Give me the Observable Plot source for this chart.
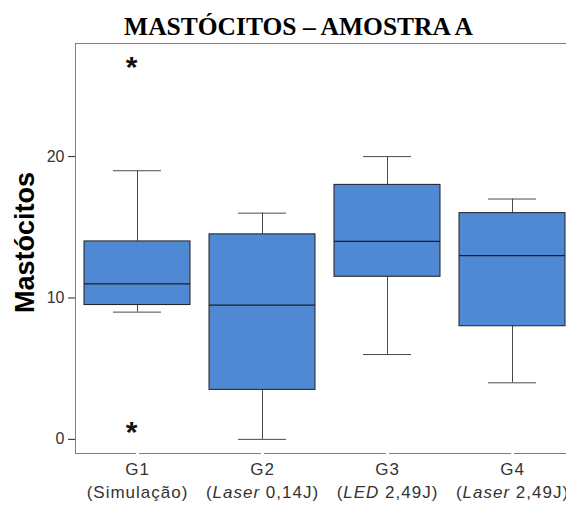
<!DOCTYPE html>
<html><head><meta charset="utf-8">
<script src="https://cdn.jsdelivr.net/npm/d3@7"></script>
<script src="https://cdn.jsdelivr.net/npm/@observablehq/plot@0.6"></script>
<style>
body{margin:0;background:#fff;overflow:hidden}
#chart{position:relative;width:566px;height:510px;overflow:hidden}
</style>
</head><body><div id="chart"></div>
<script>
const title = "MASTÓCITOS – AMOSTRA A";
const yLabel = "Mastócitos";
const groups = ["G1", "G2", "G3", "G4"];
const labelPre = ["(Simulação)", "(", "(", "("];
const labelItalic = ["", "Laser", "LED", "Laser"];
const labelPost = ["", " 0,14J)", " 2,49J)", " 2,49J)"];
const whiskerLow = [9, 0, 6, 4];
const q1 = [9.5, 3.5, 11.5, 8];
const median = [11, 9.5, 14, 13];
const q3 = [14, 14.5, 18, 16];
const whiskerHigh = [19, 16, 20, 17];
const outlierGroup = ["G1", "G1"];
const outlierValue = [26.5, 0.7];
const yTicks = [0, 10, 20];

const boxes = groups.map((g, i) => ({
  group: g, lo: whiskerLow[i], q1: q1[i], med: median[i], q3: q3[i], hi: whiskerHigh[i],
  label: labelPre[i] + labelItalic[i] + labelPost[i]
}));
const outliers = outlierGroup.map((g, i) => ({group: g, value: outlierValue[i]}));

const boxFill = "#5089d3", boxStroke = "#1e1e1e", whisk = "#4a4a4a", frameC = "#808080";

const plot = Plot.plot({
  width: 566, height: 510,
  marginTop: 43, marginBottom: 57, marginLeft: 75, marginRight: 0,
  style: {fontFamily: "Liberation Sans, Arial, sans-serif", background: "white"},
  x: {type: "band", domain: groups, range: [75, 575], paddingInner: 0.15, paddingOuter: 0.075, axis: null},
  y: {domain: [-1, 28], range: [453, 43], axis: null},
  marks: [
    Plot.ruleY([28], {stroke: frameC}),
    Plot.ruleY([-1], {stroke: frameC}),
    Plot.ruleX(groups, {x: d => d, y1: () => -1.15, y2: () => -0.85, stroke: "white", strokeWidth: 3}),
    Plot.axisY(yTicks, {tickSize: 7, tickPadding: 4, fontSize: 16, label: null, stroke: "#222", color: "#333", tickFormat: d => String(d)}),
    Plot.ruleX(boxes, {x: "group", y1: "lo", y2: "q1", stroke: whisk}),
    Plot.ruleX(boxes, {x: "group", y1: "q3", y2: "hi", stroke: whisk}),
    Plot.tickY(boxes, {x: "group", y: "lo", stroke: whisk, insetLeft: 29, insetRight: 29}),
    Plot.tickY(boxes, {x: "group", y: "hi", stroke: whisk, insetLeft: 29, insetRight: 29}),
    Plot.barY(boxes, {x: "group", y1: "q1", y2: "q3", fill: boxFill, stroke: boxStroke, strokeWidth: 1}),
    Plot.tickY(boxes, {x: "group", y: "med", stroke: boxStroke, strokeWidth: 1.2}),
    Plot.text(outliers, {x: "group", y: "value", text: () => "*", fontSize: 30, fontWeight: "bold", fill: "#111", dx: -6, dy: 3}),
    Plot.text(boxes, {x: "group", y: () => -1, text: "group", dy: 16, fontSize: 17, fill: "#333", className: "xlab1"}),
    Plot.text(boxes, {x: "group", y: () => -1, text: "label", dy: 39, fontSize: 17, fill: "#333", className: "xlab2"}),
    Plot.text([yLabel], {frameAnchor: "left", textAnchor: "middle", lineAnchor: "middle", rotate: -90, dx: -50.6, dy: -6, fontSize: 27, fontWeight: "bold", fill: "#000"}),
    Plot.text([title], {frameAnchor: "top", textAnchor: "middle", lineAnchor: "middle", dx: -22.5, dy: -17, fontSize: 25.5, fontWeight: "bold", fontFamily: "Liberation Serif, Times New Roman, serif", fill: "#000"})
  ]
});

const svg = d3.select(plot);
svg.selectAll("g.xlab1 text, g.xlab2 text").style("letter-spacing", "1px");
svg.selectAll("g.xlab2 text").each(function(_, i) {
  const t = d3.select(this);
  t.text(null);
  t.append("tspan").text(labelPre[i]);
  if (labelItalic[i]) t.append("tspan").attr("font-style", "italic").text(labelItalic[i]);
  if (labelPost[i]) t.append("tspan").text(labelPost[i]);
});
// left edge of the plot frame
svg.append("line")
  .attr("x1", 75.5).attr("x2", 75.5).attr("y1", 43).attr("y2", 453)
  .attr("stroke", frameC);

document.getElementById("chart").appendChild(plot);
</script>
</body></html>
